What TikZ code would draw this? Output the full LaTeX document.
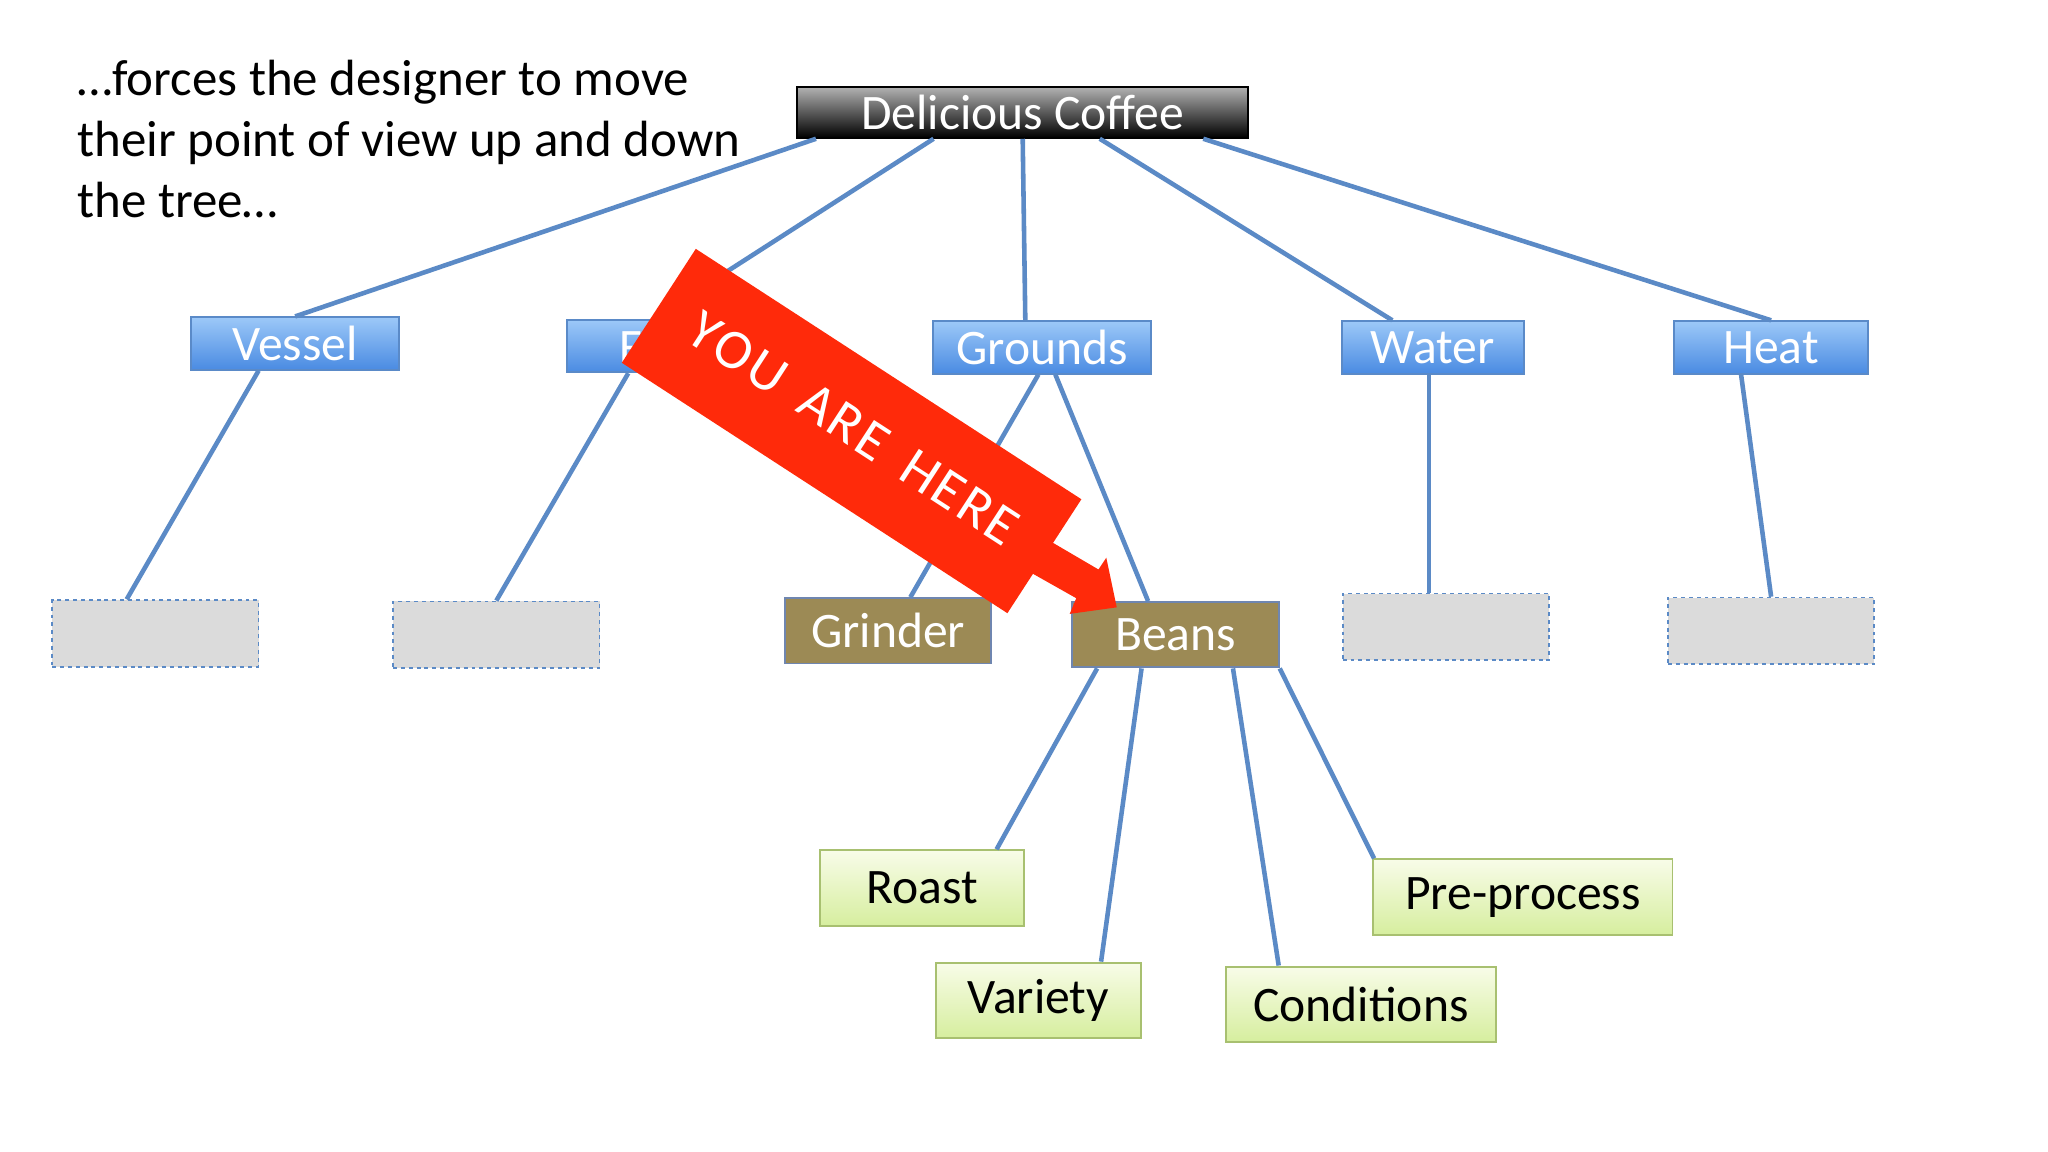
\documentclass[tikz,border=0pt]{standalone}
\usepackage{fontspec}
\setmainfont{Carlito}
\begin{document}
\begin{tikzpicture}[x=1pt,y=-1pt,
 lk/.style={draw=linkc,line width=3.5pt},
 bl/.style={draw=blb,line width=1.5pt,top color=blt,bottom color=blbot,text=white,font=\fontsize{38}{38}\selectfont,minimum height=40pt,inner sep=0pt},
 gr/.style={draw=grb,line width=1.5pt,top color=grt,bottom color=grbot,text=black,font=\fontsize{38}{38}\selectfont,minimum height=58pt,inner sep=0pt},
 ol/.style={draw=olb,line width=1.5pt,fill=olf,text=white,font=\fontsize{38}{38}\selectfont,minimum width=158pt,minimum height=50pt,inner sep=0pt},
 ds/.style={draw=linkc,dashed,line width=1.3pt,fill=gray!28,minimum width=158pt,minimum height=51pt,inner sep=0pt}]
\definecolor{linkc}{HTML}{5B8AC6}
\definecolor{blb}{HTML}{5A8AC8}
\definecolor{blt}{HTML}{9CC8F8}
\definecolor{blbot}{HTML}{4A8BE2}
\definecolor{grb}{HTML}{A8C070}
\definecolor{grt}{HTML}{F8FCE8}
\definecolor{grbot}{HTML}{D6EE9E}
\definecolor{olb}{HTML}{6F86B0}
\definecolor{olf}{HTML}{9C8A55}
\definecolor{redb}{HTML}{FF2A0A}
\useasboundingbox (0,0) rectangle (1568,882);
\fill[white] (0,0) rectangle (1568,882);
% text
\node[anchor=north west,align=left,font=\fontsize{39}{46.5}\selectfont,inner sep=0pt] (txt) at (59,46)
 {…forces the designer to move\\their point of view up and down\\the tree…};
% nodes
\node[bl,top color=gray!60,bottom color=black,draw=black,minimum width=345pt,minimum height=39pt] (dc) at (783,86) {Delicious Coffee};
\node[bl,minimum width=159pt] (vessel) at (226,263) {Vessel};
\node[bl,minimum width=160pt] (filter) at (514,265) {Filter};
\node[bl,minimum width=167pt] (grounds) at (798,266) {Grounds};
\node[bl,minimum width=139pt] (water) at (1097,266) {Water};
\node[bl,minimum width=148pt] (heat) at (1356,266) {Heat};
\node[ds] (d1) at (119,485) {};
\node[ds] (d2) at (380,486) {};
\node[ds] (d3) at (1107,480) {};
\node[ds] (d4) at (1356,483) {};
\node[ol] (grinder) at (680,483) {Grinder};
\node[ol] (beans) at (900,486) {Beans};
\node[gr,minimum width=156pt] (roast) at (706,680) {Roast};
\node[gr,minimum width=157pt] (variety) at (795,766) {Variety};
\node[gr,minimum width=207pt] (cond) at (1042,769) {Conditions};
\node[gr,minimum width=229pt] (pre) at (1166,687) {Pre-process};
% links
\draw[lk] (dc.south west)++(15,0) -- (vessel.north);
\draw[lk] (dc.south west)++(105,0) -- ([xshift=-14pt]filter.north);
\draw[lk] (dc.south) -- ([xshift=-13pt]grounds.north);
\draw[lk] (dc.south)++(59,0) -- ([xshift=-31pt]water.north);
\draw[lk] (dc.south east)++(-35,0) -- (heat.north);
\draw[lk] ([xshift=-28pt]vessel.south) -- ([xshift=-22pt]d1.north);
\draw[lk] ([xshift=-33pt]filter.south) -- (d2.north);
\draw[lk] ([xshift=-3pt]grounds.south) -- ([xshift=17pt]grinder.north);
\draw[lk] ([xshift=10pt]grounds.south) -- ([xshift=-21pt]beans.north);
\draw[lk] ([xshift=-3pt]water.south) -- ([xshift=-13pt]d3.north);
\draw[lk] ([xshift=-23pt]heat.south) -- (d4.north);
\draw[lk] ([xshift=-60pt]beans.south) -- ([xshift=57pt]roast.north);
\draw[lk] ([xshift=-26pt]beans.south) -- ([xshift=48pt]variety.north);
\draw[lk] ([xshift=44pt]beans.south) -- ([xshift=-63pt]cond.north);
\draw[lk] (beans.south east) -- ([xshift=-114pt]pre.north);
% banner
\fill[redb] (800,412) -- (841,436) -- (847,427) -- (855,465) -- (819,470) -- (824,458) -- (785,436) -- cycle;
\node[fill=redb,rotate=-33,minimum width=352pt,minimum height=104pt,text=white,
 font=\fontsize{43}{43}\selectfont,inner sep=0pt] (yah) at (652,330) {\raisebox{6pt}{Y\kern2pt O\kern2pt U\hspace{20pt}A\kern2pt R\kern2pt E\hspace{20pt}H\kern2pt E\kern2pt R\kern2pt E}};
\end{tikzpicture}
\end{document}
